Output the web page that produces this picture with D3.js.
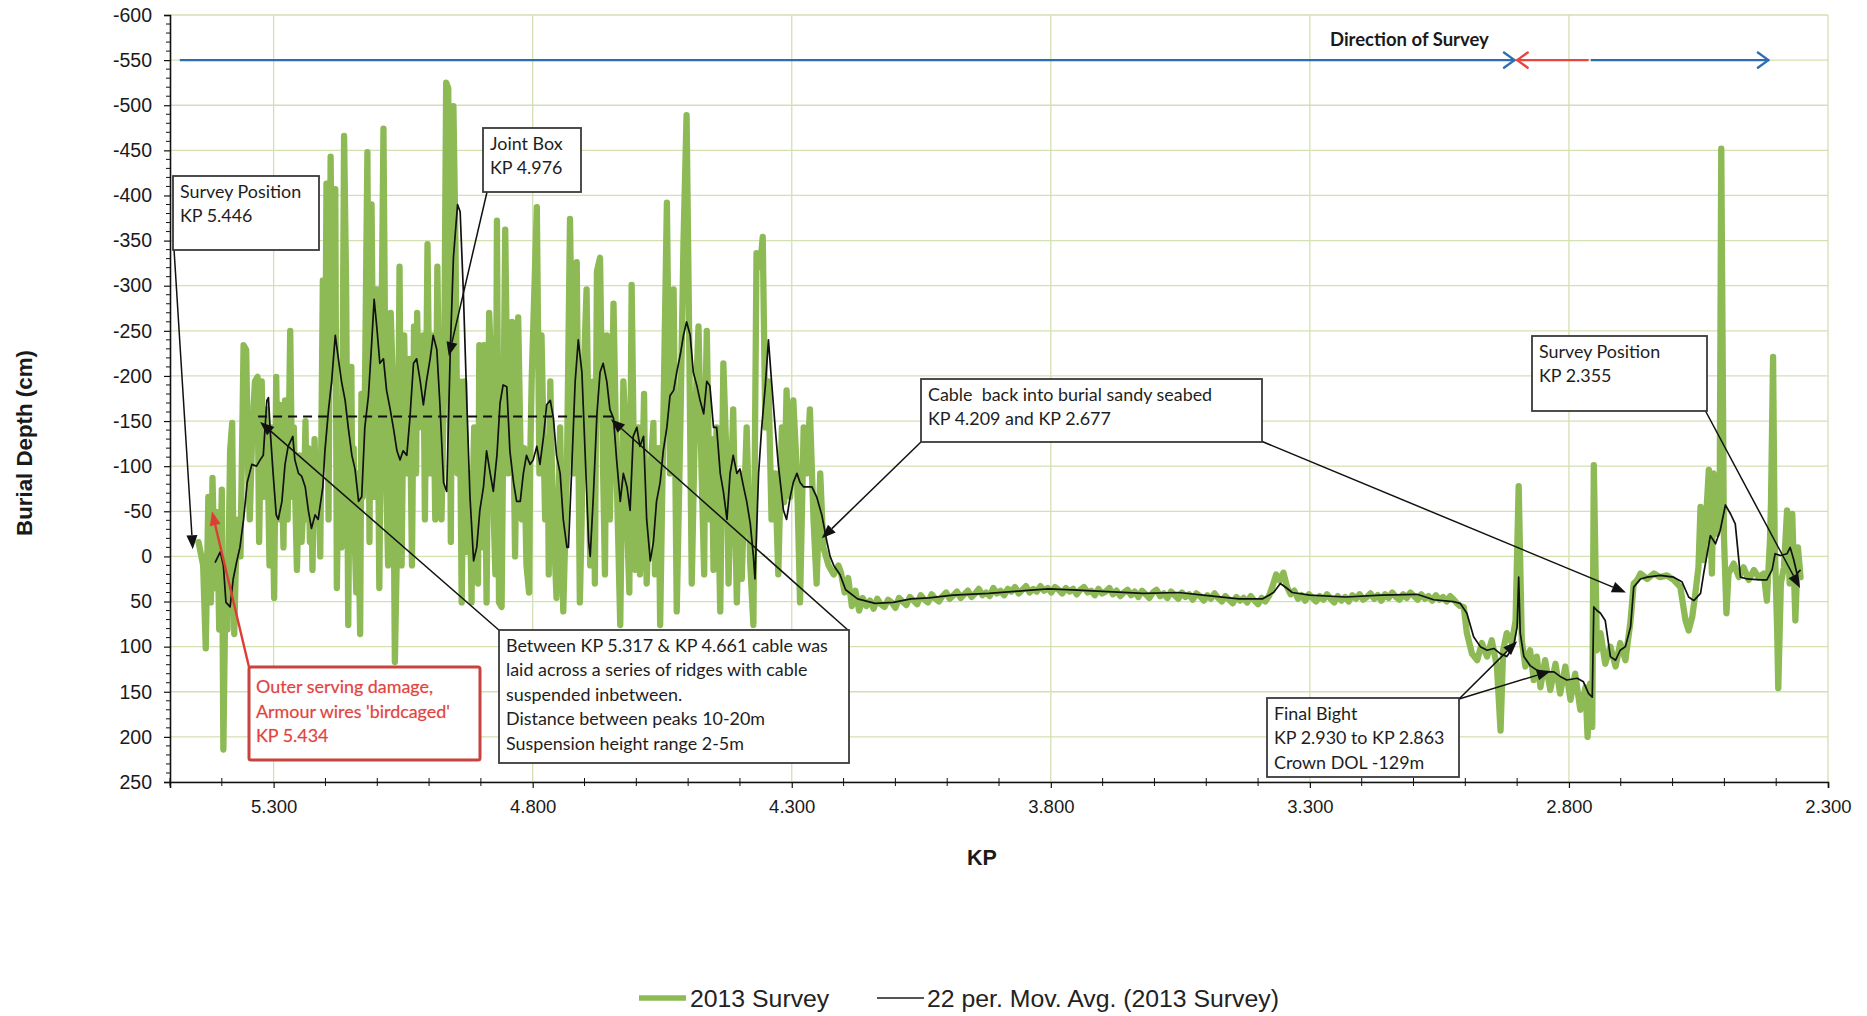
<!DOCTYPE html>
<html>
<head>
<meta charset="utf-8">
<script src="https://cdn.jsdelivr.net/npm/d3@7"></script>
<style>
  html, body { margin: 0; padding: 0; background: #ffffff; }
  svg { display: block; }
</style>
</head>
<body>
<svg id="chart" width="1867" height="1016"></svg>
<script>
// ---- Burial depth survey, 2013 (KP, depth in cm; negative = above seabed) ----

// Ridge section, KP 5.446 - 4.21
const ridgeSurvey = [
  [5.445,-16],[5.436,10],[5.431,102],[5.426,-66],[5.421,51],[5.418,-87],[5.413,35],[5.409,-49],[5.405,81],[5.400,-74],
  [5.397,214],[5.393,35],[5.389,81],[5.384,-117],[5.380,-148],[5.376,86],[5.373,10],[5.368,-41],[5.364,0],[5.358,-234],
  [5.353,-229],[5.349,-92],[5.346,-41],[5.341,-143],[5.336,-194],[5.331,-199],[5.328,-16],[5.323,-194],[5.319,-66],[5.313,-163],
  [5.308,10],[5.304,-143],[5.299,46],[5.295,-199],[5.291,-41],[5.288,-168],[5.285,-120],[5.281,-10],[5.278,-173],[5.273,-41],
  [5.268,-250],[5.264,-66],[5.261,-143],[5.258,-60],[5.255,15],[5.250,-112],[5.246,-16],[5.241,-77],[5.2385,-150],[5.236,-41],
  [5.233,-120],[5.230,-16],[5.2275,-95],[5.225,15],[5.221,-130],[5.217,-46],[5.2135,-85],[5.210,0],[5.205,-306],[5.201,-107],
  [5.198,-413],[5.194,-41],[5.190,-443],[5.186,-194],[5.181,-407],[5.178,35],[5.173,-168],[5.169,-10],[5.164,-466],[5.160,-296],
  [5.156,76],[5.153,-143],[5.150,-210],[5.148,-41],[5.1455,-120],[5.143,-10],[5.1405,40],[5.138,-92],[5.133,86],[5.1305,-180],
  [5.128,-66],[5.124,-173],[5.119,-448],[5.115,-16],[5.111,-390],[5.106,-66],[5.101,-296],[5.096,35],[5.091,-296],[5.088,-474],
  [5.083,-92],[5.079,10],[5.074,-270],[5.070,-194],[5.066,117],[5.061,-41],[5.057,-321],[5.053,10],[5.048,-245],[5.043,-92],
  [5.038,-219],[5.033,10],[5.029,-255],[5.025,-92],[5.023,-270],[5.019,-143],[5.014,-194],[5.011,-245],[5.008,-41],[5.003,-346],
  [4.998,-92],[4.993,-245],[4.988,-41],[4.984,-321],[4.980,-143],[4.976,-41],[4.971,-194],[4.967,-525],[4.963,-519],[4.958,-16],
  [4.953,-499],[4.949,-346],[4.945,-92],[4.941,-194],[4.937,51],[4.932,-194],[4.927,-5],[4.922,-92],[4.918,51],[4.916,-60],
  [4.913,-143],[4.908,-41],[4.9055,30],[4.903,-234],[4.898,-10],[4.894,-234],[4.889,51],[4.884,-270],[4.879,-194],[4.875,-41],
  [4.872,20],[4.869,-372],[4.865,51],[4.860,56],[4.853,-362],[4.847,-92],[4.840,-260],[4.834,0],[4.828,-265],[4.821,-41],
  [4.8165,-120],[4.812,10],[4.807,40],[4.805,-100],[4.802,-194],[4.792,-387],[4.787,-92],[4.783,-245],[4.776,-41],[4.771,-130],
  [4.769,20],[4.766,-194],[4.763,-100],[4.760,-41],[4.754,46],[4.747,-143],[4.741,61],[4.734,-92],[4.728,-374],[4.721,-92],
  [4.715,-326],[4.709,51],[4.7055,-40],[4.702,-194],[4.696,-296],[4.689,10],[4.683,-194],[4.680,30],[4.676,-316],[4.670,-331],
  [4.664,-92],[4.6605,20],[4.657,-245],[4.651,-41],[4.6475,-160],[4.644,-280],[4.638,-92],[4.631,76],[4.625,-194],[4.6215,-150],
  [4.618,-41],[4.6135,40],[4.609,-301],[4.602,15],[4.596,-143],[4.593,20],[4.590,-41],[4.585,-180],[4.583,-60],[4.580,30],
  [4.573,-92],[4.567,-148],[4.564,20],[4.561,-41],[4.5575,-120],[4.554,76],[4.548,-143],[4.541,-392],[4.535,-92],[4.528,-296],
  [4.522,61],[4.515,-143],[4.509,-346],[4.503,-489],[4.498,-245],[4.493,30],[4.487,-143],[4.480,-255],[4.474,-92],[4.469,20],
  [4.467,-150],[4.464,-250],[4.458,-41],[4.4545,-130],[4.451,15],[4.445,-143],[4.438,61],[4.432,-214],[4.425,-92],[4.422,30],
  [4.419,-41],[4.413,-163],[4.406,51],[4.400,-92],[4.3965,25],[4.393,-41],[4.387,-143],[4.380,10],[4.374,76],[4.368,-336],
  [4.361,-321],[4.356,-354],[4.351,-143],[4.345,-194],[4.339,-41],[4.332,-92],[4.326,20],[4.319,-143],[4.3145,-60],[4.310,-184],
  [4.3065,-120],[4.303,-66],[4.297,-173],[4.290,-92],[4.284,51],[4.277,-143],[4.271,-92],[4.265,-163],[4.258,-41],[4.252,30],
  [4.245,-92],[4.239,-10],[4.229,10],[4.219,20],[4.210,10]
];

// Sandy seabed section, KP 4.21 - 3.02
const seabedSurvey = [
  [4.205,18],[4.198,40],[4.191,24],[4.184,55],[4.177,38],[4.170,60],[4.163,46],[4.156,55],[4.149,49],[4.142,58],
  [4.135,47],[4.128,53],[4.121,56],[4.114,48],[4.107,51],[4.100,57],[4.093,46],[4.086,50],[4.079,54],[4.072,45],
  [4.065,49],[4.058,53],[4.051,43],[4.044,48],[4.037,51],[4.030,42],[4.023,47],[4.016,50],[4.009,44],[4.002,40],
  [3.995,47],[3.988,43],[3.981,39],[3.974,46],[3.967,42],[3.960,38],[3.953,45],[3.946,41],[3.939,36],[3.932,43],
  [3.925,40],[3.918,44],[3.911,35],[3.904,41],[3.897,38],[3.890,43],[3.883,36],[3.876,39],[3.869,34],[3.862,41],
  [3.855,37],[3.848,33],[3.841,40],[3.834,36],[3.827,39],[3.820,33],[3.813,38],[3.806,35],[3.799,40],[3.792,34],
  [3.785,37],[3.778,41],[3.771,35],[3.764,39],[3.757,36],[3.750,42],[3.743,37],[3.736,34],[3.729,40],[3.722,38],
  [3.715,43],[3.708,36],[3.701,41],[3.694,39],[3.687,35],[3.680,42],[3.673,38],[3.666,44],[3.659,40],[3.652,37],
  [3.645,43],[3.638,39],[3.631,45],[3.624,38],[3.617,42],[3.610,46],[3.603,40],[3.596,37],[3.589,44],[3.582,41],
  [3.575,46],[3.568,39],[3.561,43],[3.554,47],[3.547,40],[3.540,45],[3.533,42],[3.526,48],[3.519,41],[3.512,44],
  [3.505,49],[3.498,43],[3.491,47],[3.484,41],[3.477,46],[3.470,50],[3.463,44],[3.456,48],[3.449,52],[3.442,45],
  [3.435,49],[3.428,46],[3.421,51],[3.414,44],[3.407,49],[3.400,53],[3.393,46],[3.386,50],[3.379,44],[3.372,33],
  [3.365,20],[3.358,27],[3.351,18],[3.344,34],[3.337,42],[3.330,38],[3.323,47],[3.316,43],[3.309,49],[3.302,42],
  [3.295,46],[3.288,50],[3.281,44],[3.274,48],[3.267,42],[3.260,47],[3.253,51],[3.246,44],[3.239,49],[3.232,45],
  [3.225,50],[3.218,43],[3.211,47],[3.204,42],[3.197,48],[3.190,45],[3.183,41],[3.176,47],[3.169,43],[3.162,49],
  [3.155,42],[3.148,46],[3.141,40],[3.134,45],[3.127,48],[3.120,42],[3.113,46],[3.106,40],[3.099,44],[3.092,48],
  [3.085,42],[3.078,47],[3.071,44],[3.064,49],[3.057,43],[3.050,48],[3.043,45],[3.036,50],[3.029,44],[3.022,48],
  [3.016,52]
];

// Final bight and landfall approach, KP 3.01 - 2.355
const bightSurvey = [
  [3.010,55],[3.003,56],[2.997,85],[2.987,108],[2.977,115],[2.968,96],[2.958,111],[2.949,93],[2.939,122],[2.932,193],
  [2.927,104],[2.920,85],[2.910,96],[2.903,71],[2.897,-78],[2.891,93],[2.884,122],[2.875,104],[2.868,137],[2.862,111],
  [2.855,145],[2.846,115],[2.836,148],[2.826,119],[2.817,152],[2.807,122],[2.797,159],[2.788,130],[2.778,170],[2.768,145],
  [2.764,200],[2.759,141],[2.755,189],[2.752,-101],[2.746,104],[2.739,85],[2.730,119],[2.720,100],[2.710,122],[2.701,96],
  [2.691,115],[2.681,71],[2.675,30],[2.668,26],[2.662,19],[2.649,25],[2.636,19],[2.624,23],[2.611,21],[2.598,26],
  [2.585,34],[2.575,71],[2.569,82],[2.562,67],[2.556,41],[2.550,12],[2.546,-55],[2.540,4],[2.530,-96],[2.524,19],
  [2.521,-92],[2.514,-25],[2.509,-70],[2.506,-452],[2.501,-25],[2.496,63],[2.492,19],[2.482,8],[2.472,23],[2.463,12],
  [2.453,26],[2.443,15],[2.434,23],[2.424,19],[2.418,49],[2.412,-18],[2.410,-60],[2.406,-221],[2.403,-20],[2.398,85],
  [2.396,146],[2.391,30],[2.385,12],[2.379,-51],[2.374,30],[2.369,-47],[2.363,71],[2.358,-10],[2.353,23]
];

// 22 period moving average of the survey
const ridgeAverage = [
  [5.413,7],[5.403,-5],[5.397,10],[5.392,51],[5.384,56],[5.378,25],[5.371,5],[5.365,-10],[5.358,-41],[5.351,-82],
  [5.342,-102],[5.333,-100],[5.326,-107],[5.320,-112],[5.313,-173],[5.310,-176],[5.307,-143],[5.301,-92],[5.295,-46],[5.291,-41],
  [5.284,-61],[5.278,-102],[5.272,-122],[5.263,-133],[5.259,-107],[5.252,-92],[5.246,-89],[5.239,-77],[5.233,-51],[5.227,-31],
  [5.220,-46],[5.214,-41],[5.205,-77],[5.201,-117],[5.194,-163],[5.188,-194],[5.181,-245],[5.175,-219],[5.169,-194],[5.162,-173],
  [5.156,-143],[5.149,-112],[5.143,-97],[5.136,-61],[5.130,-66],[5.124,-143],[5.117,-178],[5.111,-234],[5.106,-285],[5.101,-255],
  [5.095,-214],[5.088,-219],[5.082,-184],[5.075,-163],[5.069,-143],[5.062,-117],[5.056,-107],[5.050,-117],[5.043,-112],[5.037,-153],
  [5.030,-214],[5.024,-219],[5.017,-194],[5.011,-168],[5.005,-194],[4.998,-219],[4.992,-245],[4.985,-229],[4.979,-168],[4.972,-82],
  [4.966,-72],[4.959,-229],[4.953,-331],[4.945,-390],[4.940,-382],[4.934,-296],[4.927,-168],[4.921,-66],[4.914,5],[4.908,-10],
  [4.902,-51],[4.895,-77],[4.889,-117],[4.882,-92],[4.876,-72],[4.869,-112],[4.863,-170],[4.857,-190],[4.850,-188],[4.844,-117],
  [4.837,-82],[4.831,-61],[4.824,-61],[4.818,-92],[4.812,-112],[4.805,-102],[4.799,-107],[4.792,-122],[4.786,-102],[4.779,-133],
  [4.773,-168],[4.766,-173],[4.760,-153],[4.754,-112],[4.747,-92],[4.741,-41],[4.734,-10],[4.731,-10],[4.725,-92],[4.718,-194],
  [4.712,-240],[4.705,-204],[4.699,-117],[4.692,-16],[4.689,0],[4.683,-66],[4.676,-158],[4.670,-204],[4.664,-214],[4.657,-194],
  [4.651,-163],[4.644,-153],[4.638,-107],[4.631,-61],[4.625,-92],[4.618,-77],[4.612,-51],[4.606,-133],[4.599,-143],[4.593,-122],
  [4.586,-133],[4.580,-41],[4.573,5],[4.567,-16],[4.561,-61],[4.554,-82],[4.548,-117],[4.541,-143],[4.535,-178],[4.528,-184],
  [4.522,-204],[4.515,-224],[4.509,-245],[4.503,-260],[4.496,-245],[4.490,-204],[4.483,-189],[4.477,-173],[4.470,-158],[4.464,-194],
  [4.458,-189],[4.451,-143],[4.445,-143],[4.438,-92],[4.432,-72],[4.425,-41],[4.419,-92],[4.413,-112],[4.406,-92],[4.400,-97],
  [4.393,-77],[4.387,-61],[4.380,-36],[4.374,0],[4.371,25],[4.364,-92],[4.358,-143],[4.351,-189],[4.345,-240],[4.339,-194],
  [4.332,-143],[4.326,-102],[4.316,-51],[4.310,-41],[4.303,-66],[4.297,-82],[4.290,-92],[4.284,-82],[4.277,-77],[4.271,-77],
  [4.261,-77],[4.252,-66],[4.242,-46],[4.232,-16],[4.226,0],[4.219,10],[4.207,20]
];

const seabedAverage = [
  [4.196,37],[4.173,47],[4.139,52],[4.104,51],[4.070,47],[4.035,46],[3.989,43],[3.920,41],[3.851,38],[3.805,36],
  [3.759,37],[3.690,39],[3.621,41],[3.553,40],[3.506,43],[3.437,47],[3.391,47],[3.370,40],[3.357,30],[3.345,35],
  [3.334,40],[3.300,43],[3.231,45],[3.162,43],[3.093,42],[3.061,48],[3.024,50],[3.010,52]
];

const bightAverage = [
  [2.997,63],[2.984,89],[2.971,100],[2.958,104],[2.945,102],[2.932,108],[2.920,111],[2.907,100],[2.900,78],[2.897,23],
  [2.894,85],[2.887,111],[2.875,121],[2.862,126],[2.849,128],[2.829,128],[2.817,133],[2.804,137],[2.784,135],[2.772,139],
  [2.762,152],[2.755,156],[2.752,56],[2.746,60],[2.739,63],[2.730,71],[2.720,111],[2.710,115],[2.701,104],[2.691,100],
  [2.681,78],[2.675,34],[2.662,25],[2.649,23],[2.624,21],[2.598,23],[2.582,28],[2.569,45],[2.559,49],[2.546,41],
  [2.540,19],[2.527,-23],[2.517,-14],[2.508,-29],[2.498,-57],[2.488,-47],[2.479,-36],[2.474,-7],[2.469,23],[2.456,25],
  [2.431,26],[2.418,26],[2.408,15],[2.402,-3],[2.392,-1],[2.379,-3],[2.373,-10],[2.366,4],[2.360,19],[2.353,15]
];

// Axes
const kpDomain = [5.5, 2.3];
const depthDomain = [-600, 250];
const yTickValues = [-600,-550,-500,-450,-400,-350,-300,-250,-200,-150,-100,-50,0,50,100,150,200,250];
const xTickValues = [5.3, 4.8, 4.3, 3.8, 3.3, 2.8, 2.3];
const xTickLabels = ["5.300","4.800","4.300","3.800","3.300","2.800","2.300"];

// Suspended ridge crest level and extent
const ridgeCrest = { from: 5.33, to: 4.64, depth: -155 };

// Direction of survey arrows at depth -550
const directionRuns = [
  { from: 5.481, to: 2.905, color: "#2f6db3" },
  { from: 2.762, to: 2.900, color: "#e8453f" },
  { from: 2.758, to: 2.415, color: "#2f6db3" }
];

const seriesNames = ["2013 Survey", "22 per. Mov. Avg. (2013 Survey)"];

// ---------------------------------------------------------------
const svg = d3.select("#chart");
const x = d3.scaleLinear().domain(kpDomain).range([170, 1828]);
const y = d3.scaleLinear().domain(depthDomain).range([15, 782]);

const survey = ridgeSurvey.concat(seabedSurvey, bightSurvey);
const average = ridgeAverage.concat(seabedAverage, bightAverage);

// gridlines
const grid = svg.append("g").attr("stroke", "#d3e0b2").attr("stroke-width", 1.3);
grid.selectAll("line.h").data(yTickValues).join("line").attr("class", "h")
  .attr("x1", x(kpDomain[0])).attr("x2", x(kpDomain[1]))
  .attr("y1", d => y(d)).attr("y2", d => y(d));
grid.selectAll("line.v").data(xTickValues).join("line").attr("class", "v")
  .attr("x1", d => x(d)).attr("x2", d => x(d))
  .attr("y1", y(depthDomain[0])).attr("y2", y(depthDomain[1]));

// direction of survey
const dirG = svg.append("g");
function chevron(g, tipX, tipY, dir, color) {
  const L = 13, a = 0.62;
  [-1, 1].forEach(s => {
    g.append("line")
      .attr("x1", tipX).attr("y1", tipY)
      .attr("x2", tipX - dir * L * Math.cos(a)).attr("y2", tipY + s * L * Math.sin(a))
      .attr("stroke", color).attr("stroke-width", 2.4).attr("stroke-linecap", "round");
  });
}
directionRuns.forEach(r => {
  const x1 = x(r.from), x2 = x(r.to), yy = y(-550);
  const dir = x2 > x1 ? 1 : -1;
  dirG.append("line").attr("x1", x1).attr("x2", x2 - dir * 1).attr("y1", yy).attr("y2", yy)
    .attr("stroke", r.color).attr("stroke-width", 2.4);
  chevron(dirG, x2, yy, dir, r.color);
});
dirG.append("text").attr("x", 1330).attr("y", y(-550) - 21)
  .attr("dominant-baseline", "central")
  .attr("font-family", "Lato, 'Open Sans', sans-serif").attr("font-weight", 700)
  .attr("font-size", 18.5).attr("fill", "#1a1a1a").text("Direction of Survey");

// series
const line = d3.line().x(d => x(d[0])).y(d => y(d[1]));
svg.append("path").datum(survey).attr("d", line)
  .attr("fill", "none").attr("stroke", "#8dba55").attr("stroke-width", 6.3)
  .attr("stroke-linejoin", "round").attr("stroke-linecap", "round");
svg.append("path").datum(average).attr("d", line)
  .attr("fill", "none").attr("stroke", "#111").attr("stroke-width", 1.7)
  .attr("stroke-linejoin", "round");

// ridge crest dashed line
svg.append("line")
  .attr("x1", x(ridgeCrest.from)).attr("x2", x(ridgeCrest.to))
  .attr("y1", y(ridgeCrest.depth)).attr("y2", y(ridgeCrest.depth))
  .attr("stroke", "#111").attr("stroke-width", 2).attr("stroke-dasharray", "9,6");

// axes
const yAxis = d3.axisLeft(y).tickValues(yTickValues).tickFormat(d => String(d))
  .tickSize(6).tickPadding(12);
const yg = svg.append("g").attr("transform", `translate(${x(kpDomain[0])},0)`).call(yAxis);
const xAxis = d3.axisBottom(x).tickValues(xTickValues).tickFormat((d, i) => xTickLabels[i])
  .tickSize(6).tickPadding(12);
const xg = svg.append("g").attr("transform", `translate(0,${y(depthDomain[1])})`).call(xAxis);
[yg, xg].forEach(g => {
  g.select(".domain").attr("stroke", "#111").attr("stroke-width", 1.6);
  g.selectAll(".tick line").attr("stroke", "#111").attr("stroke-width", 1.2);
  g.selectAll("text").attr("font-family", "'Liberation Sans', Arial, sans-serif")
    .attr("font-size", 18.5).attr("fill", "#1a1a1a");
});
yg.selectAll("text").attr("font-size", 19.5);

// minor ticks
const minorY = d3.range(-600, 251, 10).filter(v => v % 50 !== 0);
svg.append("g").selectAll("line").data(minorY).join("line")
  .attr("x1", x(kpDomain[0]) - 4).attr("x2", x(kpDomain[0]))
  .attr("y1", d => y(d)).attr("y2", d => y(d))
  .attr("stroke", "#111").attr("stroke-width", 1);
const minorX = d3.range(55, 22, -1).map(v => v / 10).filter(v => !xTickValues.some(t => Math.abs(t - v) < 1e-6));
svg.append("g").selectAll("line").data(minorX).join("line")
  .attr("x1", d => x(d)).attr("x2", d => x(d))
  .attr("y1", y(depthDomain[1]) - 4).attr("y2", y(depthDomain[1]) + 4)
  .attr("stroke", "#111").attr("stroke-width", 1);

// axis titles
svg.append("text").attr("transform", `translate(24,${443}) rotate(-90)`)
  .attr("text-anchor", "middle").attr("dominant-baseline", "central")
  .attr("font-family", "'Liberation Sans', Arial, sans-serif").attr("font-weight", 700)
  .attr("font-size", 22.3).attr("fill", "#1a1a1a").text("Burial Depth (cm)");
svg.append("text").attr("x", 982).attr("y", 858)
  .attr("text-anchor", "middle").attr("dominant-baseline", "central")
  .attr("font-family", "'Liberation Sans', Arial, sans-serif").attr("font-weight", 700)
  .attr("font-size", 21.5).attr("fill", "#1a1a1a").text("KP");

// annotation callouts
const notes = [
  { lines: ["Survey Position", "KP 5.446"], box: [173, 176, 146, 74],
    arrows: [{ from: [174, 249], to: [5.456, -8] }] },
  { lines: ["Joint Box", "KP 4.976"], box: [483, 128, 98, 64],
    arrows: [{ from: [487, 192], to: [4.962, -222] }] },
  { lines: ["Between KP 5.317 & KP 4.661 cable was", "laid across a series of ridges with cable",
            "suspended inbetween.", "Distance between peaks 10-20m", "Suspension height range 2-5m"],
    box: [499, 630, 350, 133],
    arrows: [{ from: [500, 631], to: [5.326, -149] }, { from: [849, 631], to: [4.649, -152] }] },
  { lines: ["Cable  back into burial sandy seabed", "KP 4.209 and KP 2.677"], box: [921, 379, 341, 63],
    arrows: [{ from: [922, 441], to: [4.242, -20] }, { from: [1261, 441], to: [2.690, 40] }] },
  { lines: ["Final Bight", "KP 2.930 to KP 2.863", "Crown DOL -129m"], box: [1267, 698, 192, 79],
    arrows: [{ from: [1459, 699], to: [2.900, 94] }, { from: [1459, 699], to: [2.835, 127] }] },
  { lines: ["Survey Position", "KP 2.355"], box: [1532, 336, 175, 75],
    arrows: [{ from: [1705, 410], to: [2.354, 35] }] }
];

const noteFont = "Lato, 'Open Sans', sans-serif";
const noteSize = 17.9;
function arrowTo(g, x1, y1, x2, y2, color, width) {
  const ang = Math.atan2(y2 - y1, x2 - x1);
  const L = 14, hw = 5.5;
  const bx = x2 - L * Math.cos(ang), by = y2 - L * Math.sin(ang);
  g.append("line").attr("x1", x1).attr("y1", y1).attr("x2", bx).attr("y2", by)
    .attr("stroke", color).attr("stroke-width", width);
  const px = -Math.sin(ang) * hw, py = Math.cos(ang) * hw;
  g.append("path")
    .attr("d", `M${x2},${y2}L${bx + px},${by + py}L${bx - px},${by - py}Z`)
    .attr("fill", color);
}

const noteG = svg.append("g");
notes.forEach(n => {
  n.arrows.forEach(a => arrowTo(noteG, a.from[0], a.from[1], x(a.to[0]), y(a.to[1]), "#111", 1.5));
});
notes.forEach(n => {
  const [bx, by, bw, bh] = n.box;
  noteG.append("rect").attr("x", bx).attr("y", by).attr("width", bw).attr("height", bh)
    .attr("fill", "#fff").attr("stroke", "#3a3a3a").attr("stroke-width", 1.8);
  n.lines.forEach((t, i) => {
    noteG.append("text").attr("x", bx + 7).attr("y", by + 15 + i * 24.4)
      .attr("dominant-baseline", "central")
      .attr("font-family", noteFont).attr("font-size", noteSize).attr("fill", "#1e1e1e")
      .style("white-space", "pre").text(t);
  });
});

// damage callout (red)
const damage = { lines: ["Outer serving damage,", "Armour wires 'birdcaged'", "KP 5.434"],
  box: [249, 667, 231, 93], from: [249, 667], to: [5.419, -50] };
arrowTo(noteG, damage.from[0], damage.from[1], x(damage.to[0]), y(damage.to[1]), "#e03c36", 2.4);
noteG.append("rect").attr("x", damage.box[0]).attr("y", damage.box[1])
  .attr("width", damage.box[2]).attr("height", damage.box[3]).attr("rx", 2)
  .attr("fill", "#fff").attr("stroke", "#c8433f").attr("stroke-width", 3);
damage.lines.forEach((t, i) => {
  noteG.append("text").attr("x", damage.box[0] + 7).attr("y", damage.box[1] + 19 + i * 24.5)
    .attr("dominant-baseline", "central")
    .attr("font-family", noteFont).attr("font-size", noteSize).attr("fill", "#e0433f")
    .attr("stroke", "#f6c9c6").attr("stroke-width", 0.6).attr("paint-order", "stroke")
    .text(t);
});

// legend
const lg = svg.append("g");
lg.append("line").attr("x1", 639).attr("x2", 686).attr("y1", 998).attr("y2", 998)
  .attr("stroke", "#8dba55").attr("stroke-width", 5.5);
lg.append("text").attr("x", 690).attr("y", 998).attr("dominant-baseline", "central")
  .attr("font-family", "'Liberation Sans', Arial, sans-serif").attr("font-size", 24.8)
  .attr("fill", "#222").text(seriesNames[0]);
lg.append("line").attr("x1", 877).attr("x2", 924).attr("y1", 998).attr("y2", 998)
  .attr("stroke", "#555").attr("stroke-width", 2);
lg.append("text").attr("x", 927).attr("y", 998).attr("dominant-baseline", "central")
  .attr("font-family", "'Liberation Sans', Arial, sans-serif").attr("font-size", 24.8)
  .attr("fill", "#222").text(seriesNames[1]);
</script>
</body>
</html>
